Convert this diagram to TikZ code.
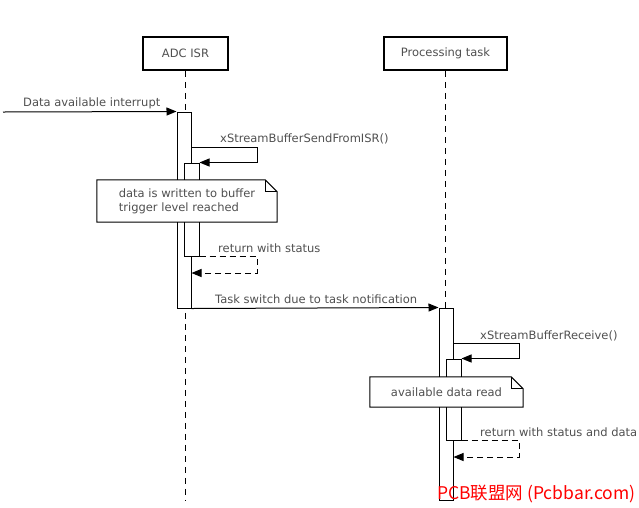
\documentclass[tikz,border=0pt]{standalone}
\usepackage{fontspec}
\setmainfont{DejaVu Sans}
\newfontfamily\cjk{Noto Sans CJK SC}
\usepackage{xcolor}
\usetikzlibrary{arrows.meta,calc}

\definecolor{txtgray}{HTML}{505050}

\begin{document}
\begin{tikzpicture}[x=1pt,y=-1pt]
 \useasboundingbox (0,0) rectangle (639,507);
 % Define styles of the sequence diagram
 \tikzset{participant/.style={draw=black, line width=1.8pt, fill=white, minimum height=33, inner sep=0pt, text=txtgray, font=\fontsize{11.5}{14}\selectfont}}
 \tikzset{actbar/.style={draw=black, line width=1pt, fill=white, minimum width=14, inner sep=0pt}}
 \tikzset{lifeline/.style={black, line width=1pt, dash pattern=on 6pt off 5pt}}
 \tikzset{note/.style={fill=white, align=left, inner sep=0pt, text=txtgray, font=\fontsize{11.5}{14}\selectfont}}
 \tikzset{noteline/.style={draw=black, line width=1pt}}
 \tikzset{msg/.style={black, line width=1pt, -{Triangle[length=10pt,width=8pt]}}}
 \tikzset{ret/.style={black, line width=1pt, dash pattern=on 6pt off 4pt, -{Triangle[length=10pt,width=8pt]}}}
 \tikzset{lbl/.style={anchor=base west, inner sep=0pt, text=txtgray, font=\fontsize{11.5}{14}\selectfont}}
 % Participants
 \node[participant, minimum width=85] (adc) at (185.5,53.5) {ADC ISR};
 \node[participant, minimum width=123] (proc) at (445.5,53.5) {Processing task};
 \coordinate (bottom) at (0,500);
 \draw[lifeline] (adc.south) -- (adc.south |- bottom);
 \draw[lifeline] (proc.south) -- (proc.south |- bottom);
 % Activation bars
 \node[actbar, minimum height=196] (act1) at (184,210) {};
 \node[actbar, minimum width=15, minimum height=93] (nest1) at (191.5,209.5) {};
 \node[actbar, minimum height=192] (act2) at (446,404) {};
 \node[actbar, minimum width=15, minimum height=81] (nest2) at (453.5,399.5) {};
 % Notes with folded corner
 \node[note, minimum width=180, minimum height=42] (note1) at (187,201) {data is written to buffer\\trigger level reached};
 \draw[noteline] (note1.north west) -- ([xshift=-12pt]note1.north east) -- ([yshift=-12pt]note1.north east) -- (note1.south east) -- (note1.south west) -- cycle;
 \draw[noteline] ([xshift=-12pt]note1.north east) -- ([xshift=-12pt,yshift=-12pt]note1.north east) -- ([yshift=-12pt]note1.north east);
 \node[note, minimum width=153, minimum height=30] (note2) at (446.5,392) {available data read};
 \draw[noteline] (note2.north west) -- ([xshift=-12pt]note2.north east) -- ([yshift=-12pt]note2.north east) -- (note2.south east) -- (note2.south west) -- cycle;
 \draw[noteline] ([xshift=-12pt]note2.north east) -- ([xshift=-12pt,yshift=-12pt]note2.north east) -- ([yshift=-12pt]note2.north east);
 % Messages
 \coordinate (intsrc) at (3,112);
 \draw[msg] (intsrc) -- (act1.north west);
 \node[lbl] (lblint) at (23,106) {Data available interrupt};
 \coordinate (call1) at (257,147);
 \draw[msg] (act1.east |- call1) -- (call1) -- (call1 |- nest1.north) -- (nest1.north east);
 \node[lbl] (lblsend) at (220,142) {xStreamBufferSendFromISR()};
 \coordinate (ret1) at (257,273);
 \draw[ret] (nest1.south east) -- (nest1.south east -| ret1) -- (ret1) -- (act1.east |- ret1);
 \node[lbl] (lblret1) at (218,252) {return with status};
 \draw[msg] (act1.south east) -- (act2.north west);
 \node[lbl] (lblswitch) at (215,303) {Task switch due to task notification};
 \coordinate (call2) at (519,343);
 \draw[msg] (act2.east |- call2) -- (call2) -- (call2 |- nest2.north) -- (nest2.north east);
 \node[lbl] (lblrecv) at (480,339) {xStreamBufferReceive()};
 \coordinate (ret2) at (519,457);
 \draw[ret] (nest2.south east) -- (nest2.south east -| ret2) -- (ret2) -- (act2.east |- ret2);
 \node[lbl] (lblret2) at (480,436) {return with status and data};
 % Watermark
 \node[anchor=base west, inner sep=0pt, text=red, font=\cjk\fontsize{17.5}{17.5}\selectfont] (mark) at (437,499) {PCB联盟网 (Pcbbar.com)};
\end{tikzpicture}
\end{document}
